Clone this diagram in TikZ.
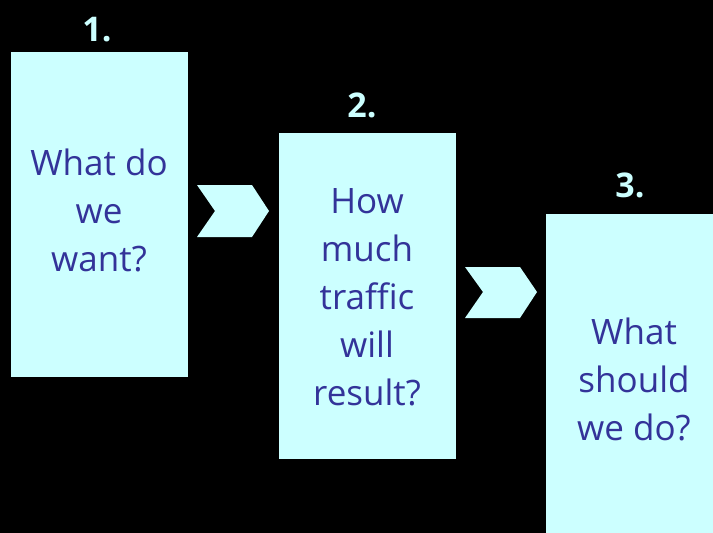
\documentclass[tikz,border=0pt]{standalone}
\usepackage{fontspec}
\setmainfont{Open Sans}
\definecolor{boxcyan}{HTML}{CCFFFF}
\definecolor{txtblue}{HTML}{333399}
\begin{document}
\begin{tikzpicture}[x=1pt,y=-1pt,
  stepbox/.style={fill=boxcyan,draw=none,anchor=north west,inner sep=0pt},
  qtext/.style={text=txtblue,align=center,font=\fontsize{35}{48}\selectfont},
  numtext/.style={text=boxcyan,font=\bfseries\fontsize{34}{40}\selectfont},
  chevron/.style={fill=boxcyan,draw=none}]
% background
\fill[black] (0,0) rectangle (713,533);
\useasboundingbox (0,0) rectangle (713,533);
% the three boxes
\node[stepbox,minimum width=177pt,minimum height=325pt] (box1) at (11,52) {};
\node[stepbox,minimum width=177pt,minimum height=326pt] (box2) at (279,133) {};
\node[stepbox,minimum width=167pt,minimum height=319pt] (box3) at (546,214) {};
% numbers
\node[numtext] (n1) at (97,30) {1.};
\node[numtext] (n2) at (362,105) {2.};
\node[numtext] (n3) at (630,185) {3.};
% questions
\node[qtext] (q1) at (99,210) {What do\\we\\want?};
\node[qtext] (q2) at (367,297) {How\\much\\traffic\\will\\result?};
\node[qtext] (q3) at (634,379) {What\\should\\we do?};
% chevrons
\fill[chevron] (197,185) -- (252,185) -- (269,211) -- (252,237) -- (197,237) -- (215,211) -- cycle;
\fill[chevron] (465,267) -- (520,267) -- (537,292) -- (520,318) -- (465,318) -- (483,292) -- cycle;
\end{tikzpicture}
\end{document}
